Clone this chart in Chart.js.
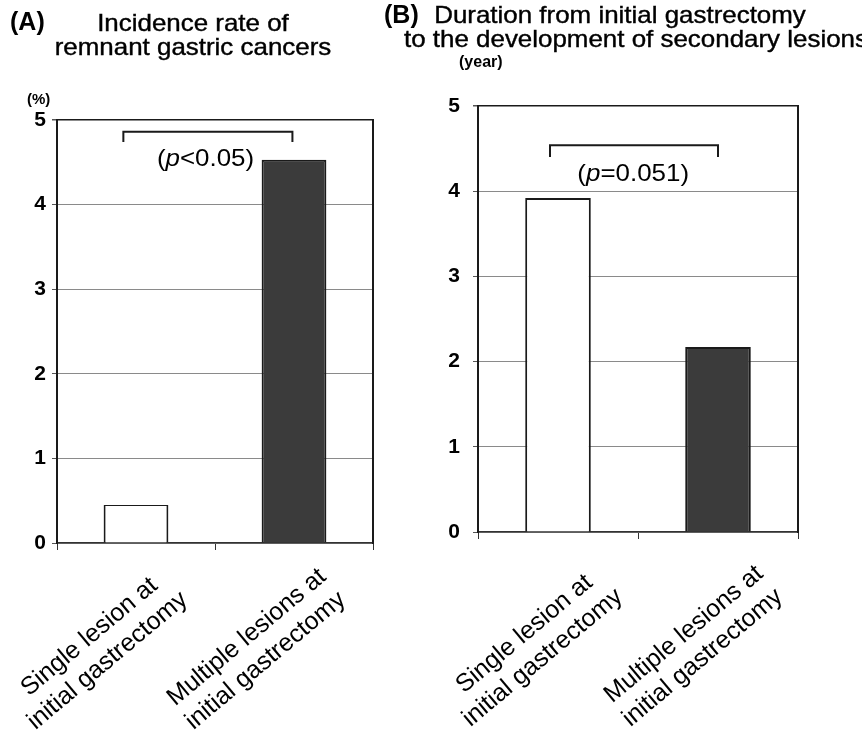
<!DOCTYPE html>
<html><head>
<meta charset="UTF-8">
<title>Remnant gastric cancers</title>
<style>
  body {
    margin: 0;
    background: #fff;
    font-family: 'Liberation Sans', Arial, sans-serif;
    color: #000;
  }
  #page {
    position: relative;
    width: 862px;
    height: 731px;
    overflow: hidden;
  }
  .panel {
    position: absolute;
    top: 0;
    height: 731px;
  }
  .t {
    position: absolute;
    white-space: nowrap;
    line-height: 1;
  }
  .c {
    text-align: center;
    font-size: 24px;
    transform: scaleX(1.08);
    transform-origin: center top;
    -webkit-text-stroke: 0.4px #000;
  }
</style>
<script src="https://cdn.jsdelivr.net/npm/chart.js"></script>
</head>
<body>
<div id="page">
  <div class="panel" style="left:0;width:430px"><canvas id="chartA" width="430" height="731"></canvas></div>
  <div class="panel" style="left:430px;width:432px"><canvas id="chartB" width="432" height="731"></canvas></div>

  <div class="t" style="left:10px;top:9px;font-size:25px;font-weight:bold">(A)</div>
  <div class="t c" style="left:43px;width:300px;top:11px">Incidence rate of</div>
  <div class="t c" style="left:43px;width:300px;top:35px">remnant gastric cancers</div>
  <div class="t" style="left:27px;top:91px;font-size:15px;font-weight:bold">(%)</div>

  <div class="t" style="left:384px;top:2px;font-size:25px;font-weight:bold">(B)</div>
  <div class="t c" style="left:420px;width:400px;top:3px">Duration from initial gastrectomy</div>
  <div class="t c" style="left:420px;width:400px;top:27px">to the development of secondary lesions</div>
  <div class="t" style="left:459px;top:54px;font-size:16px;font-weight:bold">(year)</div>
</div>

<script>
  // data
  const categories = [
    ['Single lesion at', 'initial gastrectomy'],
    ['Multiple lesions at', 'initial gastrectomy']
  ];
  const incidenceRate = [0.45, 4.53];   // (%)
  const durationYears = [3.92, 2.17];   // (year)
  const yTicks = [0, 1, 2, 3, 4, 5];
  const barFill = ['#ffffff', '#3b3b3b'];

  const pTextA = ['(', 'p', '<0.05)'];
  const pTextB = ['(', 'p', '=0.051)'];

  const FONT = "'Liberation Sans', Arial, sans-serif";
  const LABEL_SIZE = 25;
  const measureCtx = document.createElement('canvas').getContext('2d');

  // rotated ticks are right aligned in Chart.js; pad the shorter line so the two lines look centred
  function centreLines(lines, size) {
    measureCtx.font = size + 'px ' + FONT;
    const widths = lines.map(l => measureCtx.measureText(l).width);
    const max = Math.max(...widths);
    const sp = measureCtx.measureText(' ').width;
    return lines.map((l, i) => l + ' '.repeat(Math.round((max - widths[i]) / 2 / sp)));
  }

  const bracketPlugin = {
    id: 'pBracket',
    afterDatasetsDraw(chart, args, opts) {
      const x = chart.scales.x, y = chart.scales.y, ctx = chart.ctx;
      const step = x.getPixelForValue(1) - x.getPixelForValue(0);
      const px = v => x.getPixelForValue(0) + v * step;
      const x0 = px(opts.span[0]), x1 = px(opts.span[1]);
      const yTop = y.getPixelForValue(opts.level[0]);
      const yTip = y.getPixelForValue(opts.level[1]);

      ctx.save();
      ctx.strokeStyle = '#1a1a1a';
      ctx.lineWidth = 2;
      ctx.beginPath();
      ctx.moveTo(x0, yTip);
      ctx.lineTo(x0, yTop);
      ctx.lineTo(x1, yTop);
      ctx.lineTo(x1, yTip);
      ctx.stroke();

      // "(p...)" with italic p
      const fonts = opts.text.map((s, i) => (i === 1 ? 'italic ' : '') + '24px ' + FONT);
      let total = 0;
      const w = opts.text.map((s, i) => { ctx.font = fonts[i]; const m = ctx.measureText(s).width; total += m; return m; });
      ctx.translate(px(opts.textAt[0]), y.getPixelForValue(opts.textAt[1]));
      ctx.scale(1.08, 1);
      ctx.fillStyle = '#000';
      ctx.textBaseline = 'middle';
      let cx = -total / 2;
      opts.text.forEach((s, i) => {
        ctx.font = fonts[i];
        ctx.fillText(s, cx, 0);
        cx += w[i];
      });
      ctx.restore();
    }
  };

  function makeChart(id, values, cfg) {
    const ctx = document.getElementById(id).getContext('2d');
    return new Chart(ctx, {
      type: 'bar',
      data: {
        labels: categories.map(c => centreLines(c, LABEL_SIZE)),
        datasets: [{
          data: values,
          backgroundColor: barFill,
          borderColor: '#1a1a1a',
          borderWidth: c => (c.dataIndex === 0 && cfg.thinTop)
            ? { top: 1, left: 2, right: 2, bottom: 0 }
            : { top: 2, left: 2, right: 2, bottom: 0 },
          borderSkipped: 'bottom',
          barPercentage: 0.41,
          categoryPercentage: 1
        }]
      },
      options: {
        responsive: false,
        animation: false,
        layout: { padding: { left: 0, right: cfg.padRight, top: cfg.padTop, bottom: 0 } },
        plugins: {
          legend: { display: false },
          tooltip: { enabled: false },
          pBracket: cfg.bracket
        },
        scales: {
          x: {
            offset: true,
            grid: { drawOnChartArea: false, color: '#333', tickLength: 7 },
            border: { color: '#333', width: 1.5 },
            ticks: {
              color: '#000',
              font: { family: FONT, size: LABEL_SIZE },
              minRotation: 40,
              maxRotation: 40,
              padding: cfg.xPad,
              labelOffset: cfg.xOffset,
              autoSkip: false
            },
            afterFit: s => {
              s.height = cfg.xHeight;
              s.paddingLeft = 0;
              s.paddingRight = 0;
            }
          },
          y: {
            min: 0,
            max: 5,
            afterBuildTicks: s => { s.ticks = yTicks.map(v => ({ value: v })); },
            grid: {
              color: c => c.tick.value === 5 ? '#1a1a1a' : '#8a8a8a',
              lineWidth: c => c.tick.value === 5 ? 1.5 : 1,
              tickLength: 5,
              tickColor: '#555'
            },
            border: { color: '#1a1a1a', width: 2 },
            ticks: {
              color: '#000',
              font: { family: FONT, size: 21, weight: 'bold' },
              padding: cfg.yPad
            },
            afterFit: s => { s.width = cfg.yWidth; }
          },
          y2: {
            position: 'right',
            min: 0,
            max: 5,
            grid: { drawOnChartArea: false, drawTicks: false },
            border: { color: '#1a1a1a', width: 2 },
            ticks: { display: false },
            afterFit: s => { s.width = 0; }
          }
        }
      },
      plugins: [bracketPlugin]
    });
  }

  makeChart('chartA', incidenceRate, {
    padRight: 57, padTop: 120, yWidth: 57, xHeight: 188,
    yPad: 6, xPad: 12, xOffset: 29, thinTop: true,
    bracket: { span: [-0.08, 0.99], level: [4.86, 4.74], textAt: [0.44, 4.54], text: pTextA }
  });

  makeChart('chartB', durationYears, {
    padRight: 64, padTop: 106, yWidth: 48, xHeight: 199,
    yPad: 13, xPad: 20, xOffset: 42, thinTop: false,
    bracket: { span: [-0.05, 1.0], level: [4.54, 4.40], textAt: [0.47, 4.2], text: pTextB }
  });
</script>
</body></html>
